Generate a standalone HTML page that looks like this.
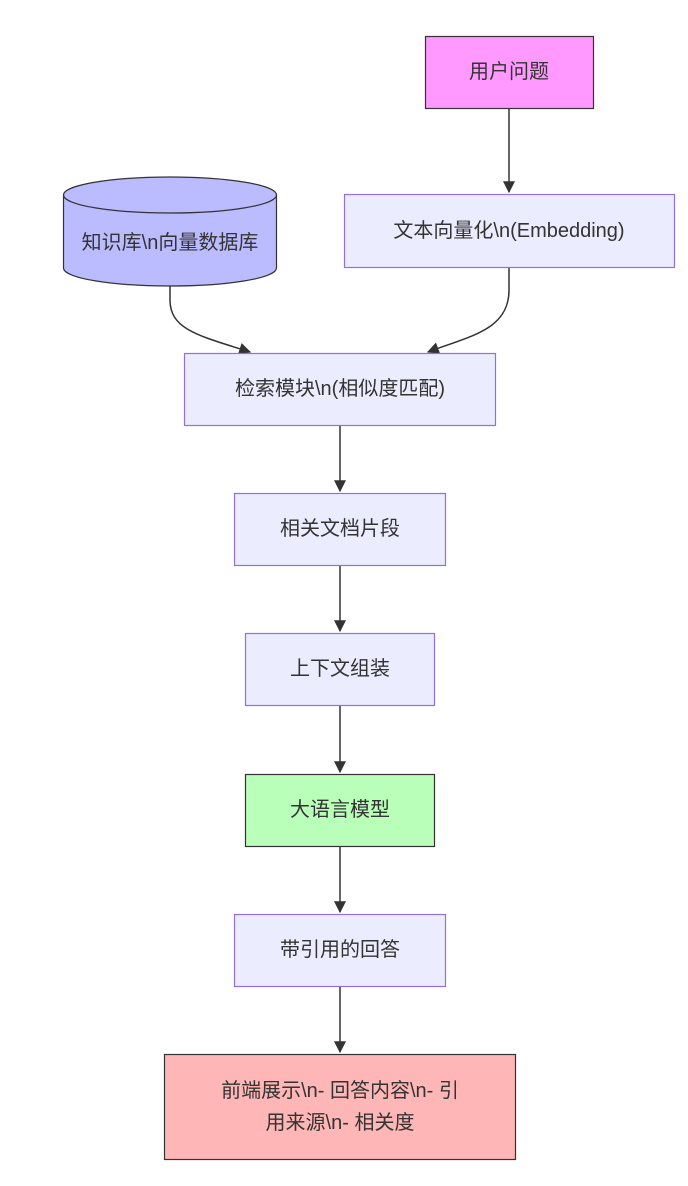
<!DOCTYPE html>
<html><head><meta charset="utf-8"><style>
html,body{margin:0;padding:0;background:#fff;}
svg{display:block;}
text{font-family:"Liberation Sans","Noto Sans CJK SC",sans-serif;font-size:20px;fill:#333;text-anchor:middle;dominant-baseline:central;}
</style></head><body>
<svg width="688" height="1186" viewBox="0 0 688 1186" xmlns="http://www.w3.org/2000/svg">
<defs><marker id="a" viewBox="0 0 10 10" refX="9" refY="5" markerWidth="8" markerHeight="8" orient="auto"><path d="M0,0L10,5L0,10z" fill="#333"/></marker></defs>
<g fill="none" stroke="#333" stroke-width="1.5">
<path d="M509,108V192" marker-end="url(#a)"/>
<path d="M170,286V300C170,330 200,336 250,352" marker-end="url(#a)"/>
<path d="M509,267V290C509,330 470,336 428,352" marker-end="url(#a)"/>
<path d="M340,426V491" marker-end="url(#a)"/>
<path d="M340,566V631" marker-end="url(#a)"/>
<path d="M340,706V772" marker-end="url(#a)"/>
<path d="M340,847V912" marker-end="url(#a)"/>
<path d="M340,987V1052" marker-end="url(#a)"/>
</g>
<rect x="425.5" y="36.5" width="168" height="72" fill="#ff99ff" stroke="#333" stroke-width="1.2"/>
<text x="509" y="72">用户问题</text>
<rect x="344.5" y="194.5" width="330" height="73" fill="#ececff" stroke="#9370db" stroke-width="1.2"/>
<text x="509" y="231">文本向量化\n(Embedding)</text>
<path d="M63.5,195 A106.5,18 0 0 1 276.5,195 V268 A106.5,18 0 0 1 63.5,268 Z" fill="#bbbbff" stroke="#333" stroke-width="1.2"/>
<path d="M63.5,195 A106.5,18 0 0 0 276.5,195" fill="none" stroke="#333" stroke-width="1.2"/>
<text x="170" y="243">知识库\n向量数据库</text>
<rect x="184.5" y="353.5" width="311" height="72" fill="#ececff" stroke="#9370db" stroke-width="1.2"/>
<text x="340" y="389">检索模块\n(相似度匹配)</text>
<rect x="234.5" y="493.5" width="211" height="72" fill="#ececff" stroke="#9370db" stroke-width="1.2"/>
<text x="340" y="529">相关文档片段</text>
<rect x="245.5" y="633.5" width="189" height="72" fill="#ececff" stroke="#9370db" stroke-width="1.2"/>
<text x="340" y="669">上下文组装</text>
<rect x="245.5" y="774.5" width="189" height="72" fill="#b9ffb9" stroke="#333" stroke-width="1.2"/>
<text x="340" y="810">大语言模型</text>
<rect x="234.5" y="914.5" width="211" height="72" fill="#ececff" stroke="#9370db" stroke-width="1.2"/>
<text x="340" y="950">带引用的回答</text>
<rect x="164.5" y="1054.5" width="351" height="105" fill="#ffb6b6" stroke="#333" stroke-width="1.2"/>
<text x="340" y="1091">前端展示\n- 回答内容\n- 引</text>
<text x="340" y="1123">用来源\n- 相关度</text>
</svg>
</body></html>
